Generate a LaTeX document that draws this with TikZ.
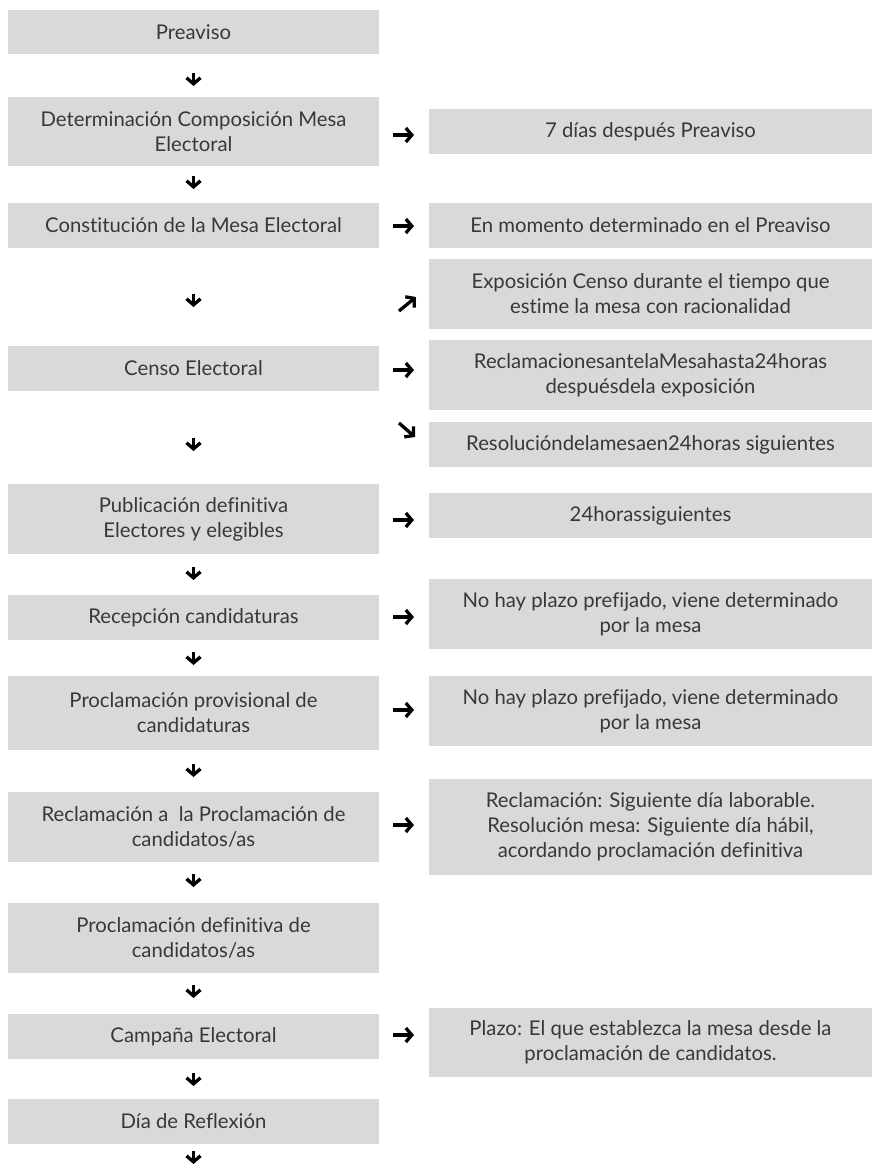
\documentclass[tikz,border=0pt]{standalone}
\usepackage{fontspec}
\setmainfont{Lato}[Ligatures=NoCommon]
\usetikzlibrary{arrows.meta}
\definecolor{boxgray}{HTML}{D9D9D9}
\definecolor{txt}{HTML}{383838}
\tikzset{
  box/.style={fill=boxgray, draw=none, inner sep=0pt, align=center, text=txt,
    font={\fontsize{20.3}{25}\selectfont}},
  lbox/.style={box, minimum width=371pt},
  rbox/.style={box, minimum width=443pt},
  garrow/.style={line width=3.3pt, black, line cap=butt, -{Straight Barb[length=6pt,width=14pt,line join=miter]}}
}
\begin{document}
\begin{tikzpicture}[x=1pt,y=-1pt]
\useasboundingbox[fill=white] (0,0) rectangle (872,1164);
% left column
\node[lbox, minimum height=44pt] (l1) at (193.5,32) {Preaviso};
\node[lbox, minimum height=69pt] (l2) at (193.5,131.5) {Determinación Composición Mesa\\Electoral};
\node[lbox, minimum height=45pt] (l3) at (193.5,225.5) {Constitución de la Mesa Electoral};
\node[lbox, minimum height=45pt] (l4) at (193.5,368.5) {Censo Electoral};
\node[lbox, minimum height=70pt] (l5) at (193.5,519) {Publicación definitiva\\Electores y elegibles};
\node[lbox, minimum height=45pt] (l6) at (193.5,617.5) {Recepción candidaturas};
\node[lbox, minimum height=74pt] (l7) at (193.5,713) {Proclamación provisional de\\candidaturas};
\node[lbox, minimum height=70pt] (l8) at (193.5,827) {Reclamación a~ la Proclamación de\\candidatos/as};
\node[lbox, minimum height=70pt] (l9) at (193.5,938) {Proclamación definitiva de\\candidatos/as};
\node[lbox, minimum height=45pt] (l10) at (193.5,1036.5) {Campaña Electoral};
\node[lbox, minimum height=45pt] (l11) at (193.5,1121.5) {Día de Reflexión};
% right column
\node[rbox, minimum height=45pt] (r1) at (650.5,131.5) {7 días después Preaviso};
\node[rbox, minimum height=45pt] (r2) at (650.5,225.5) {En momento determinado en el Preaviso};
\node[rbox, minimum height=70pt] (r3) at (650.5,294) {Exposición Censo durante el tiempo que\\estime la mesa con racionalidad};
\node[rbox, minimum height=70pt] (r4) at (650.5,375) {ReclamacionesantelaMesahasta24horas\\despuésdela exposición};
\node[rbox, minimum height=45pt] (r5) at (650.5,444.5) {Resolucióndelamesaen24horas siguientes};
\node[rbox, minimum height=45pt] (r6) at (650.5,515.5) {24horassiguientes};
\node[rbox, minimum height=70pt] (r7) at (650.5,614) {No hay plazo prefijado, viene determinado\\por la mesa};
\node[rbox, minimum height=70pt] (r8) at (650.5,711) {No hay plazo prefijado, viene determinado\\por la mesa};
\node[rbox, minimum height=96pt] (r9) at (650.5,827) {Reclamación: Siguiente día laborable.\\Resolución mesa: Siguiente día hábil,\\acordando proclamación definitiva};
\node[rbox, minimum height=69pt] (r10) at (650.5,1042.5) {Plazo: El que establezca la mesa desde la\\proclamación de candidatos.};
% down arrows
\foreach \y in {73,176,294,438,567,652,764,874,985,1073,1151}{
  \draw[garrow] (193.5,\y) -- (193.5,\y+13);
}
% right arrows
\foreach \y in {135,226,370,520,617,710,825,1035}{
  \draw[garrow] (393,\y) -- (414,\y);
}
% diagonal arrows
\draw[garrow] (399,311) -- (416,297);
\draw[garrow] (399,423) -- (415,437);
\end{tikzpicture}
\end{document}
